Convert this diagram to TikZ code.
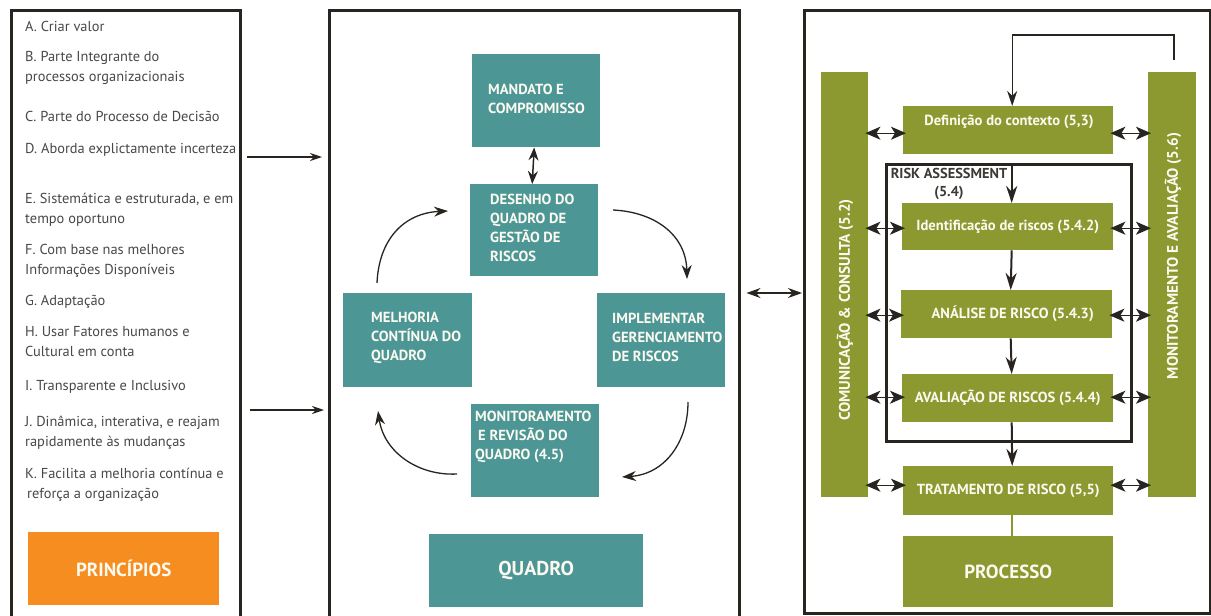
\documentclass[tikz,border=0pt]{standalone}
\usepackage{fontspec}
\setmainfont{PT Sans}
\usetikzlibrary{arrows.meta,calc}
\definecolor{teal1}{RGB}{76,150,150}
\definecolor{olive1}{RGB}{140,152,48}
\definecolor{orange1}{RGB}{246,141,32}
\definecolor{ink}{RGB}{40,36,32}
\definecolor{txt}{RGB}{72,72,72}
\definecolor{wtxt}{RGB}{252,250,240}
\tikzset{
  panel/.style={draw=ink, line width=3pt, anchor=north west, inner sep=0pt},
  tbox/.style={fill=teal1, anchor=north west, inner sep=0pt},
  obox/.style={fill=olive1, anchor=north west, inner sep=0pt, text=wtxt, font=\bfseries\fontsize{14.6}{17}\selectfont},
  ttext/.style={anchor=west, align=left, inner sep=0pt, text=wtxt, font=\bfseries\fontsize{14.6}{19}\selectfont},
  otext/.style={inner sep=0pt, text=wtxt, font=\bfseries\fontsize{14.6}{17}\selectfont},
  item/.style={anchor=west, align=left, inner sep=0pt, text=txt, font=\fontsize{14.4}{20}\selectfont},
  bigtext/.style={text=wtxt, font=\bfseries\fontsize{19}{22}\selectfont},
  larrow/.style={draw=ink, line width=1.3pt, -{Stealth[length=12pt,width=8pt]}},
  carrow/.style={draw=ink, line width=1.3pt, -{Stealth[length=14pt,width=10pt]}},
  dblarrow/.style={draw=ink, line width=1.3pt, {Stealth[length=15pt,width=13pt,inset=4pt]}-{Stealth[length=15pt,width=13pt,inset=4pt]}},
  varrow/.style={draw=ink, line width=2pt, -{Stealth[length=17pt,width=11pt]}},
  fbline/.style={draw=ink, line width=1.3pt, -{Stealth[length=15pt,width=10pt]}}
}
\begin{document}
\begin{tikzpicture}[x=1pt,y=-1pt]
\useasboundingbox (0,0) rectangle (1211,616);
\fill[white] (0,0) rectangle (1211,616);
% panels
\node[panel, minimum width=229pt, minimum height=640pt] (pL) at (10,9) {};
\node[panel, minimum width=409.5pt, minimum height=640pt] (pM) at (328,9) {};
\node[panel, minimum width=405.5pt, minimum height=602.5pt] (pR) at (803,9) {};
% left list
\node[item] (iA) at (25,26) {A. Criar valor};
\node[item] (iB) at (25,68) {B. Parte Integrante do\\processos organizacionais};
\node[item] (iC) at (25,116) {C. Parte do Processo de Decisão};
\node[item] (iD) at (25,150) {D. Aborda explictamente incerteza};
\node[item] (iE) at (25,209.5) {E. Sistemática e estruturada, e em\\tempo oportuno};
\node[item] (iF) at (25,260.5) {F. Com base nas melhores\\Informações Disponíveis};
\node[item] (iG) at (25,302) {G. Adaptação};
\node[item] (iH) at (25,342) {H. Usar Fatores humanos e\\Cultural em conta};
\node[item] (iI) at (25,387) {I. Transparente e Inclusivo};
\node[item] (iJ) at (25,433) {J. Dinâmica, interativa, e reajam\\rapidamente às mudanças};
\node[item] (iK) at (25,485) {K. Facilita a melhoria contínua e\\\hspace{2pt}reforça a organização};
\node[fill=orange1, anchor=north west, inner sep=0pt, minimum width=191pt, minimum height=73pt, bigtext] (prin) at (28,532) {PRINCÍPIOS};
% left -> middle arrows
\coordinate (ya) at (0,157);
\coordinate (yb) at (0,410);
\draw[larrow, shorten <=5pt, shorten >=6pt] (pL.east |- ya) -- (pM.west |- ya);
\draw[larrow, shorten <=8pt, shorten >=4pt] (pL.east |- yb) -- (pM.west |- yb);
% middle boxes
\node[tbox, minimum width=128pt, minimum height=93pt] (mand) at (472,54) {};
\node[tbox, minimum width=128pt, minimum height=92pt] (des) at (470,184) {};
\node[tbox, minimum width=129pt, minimum height=94pt] (mel) at (343,293) {};
\node[tbox, minimum width=128pt, minimum height=94pt] (imp) at (597,293) {};
\node[tbox, minimum width=128pt, minimum height=93pt] (mon) at (471,404) {};
\node[tbox, minimum width=214pt, minimum height=73pt, bigtext, font=\bfseries\fontsize{20}{24}\selectfont] (quad) at (429,534) {QUADRO};
\node[ttext] (mandT) at (488,99) {MANDATO E\\COMPROMISSO};
\node[ttext] (desT) at (490,228) {DESENHO DO\\QUADRO DE\\GESTÃO DE\\RISCOS};
\node[ttext] (melT) at (371,338) {MELHORIA\\CONTÍNUA DO\\QUADRO};
\node[ttext] (impT) at (612,337) {IMPLEMENTAR\\GERENCIAMENTO\\DE RISCOS};
\node[ttext] (monT) at (475,437) {MONITORAMENTO\\\hspace{3pt}E REVISÃO DO\\QUADRO (4.5)};
\draw[draw=ink, line width=1.5pt, {Stealth[length=13pt,width=10pt]}-{Stealth[length=13pt,width=10pt]}] ([xshift=-2pt]mand.south) -- ([xshift=-2pt]des.north);
% cycle arrows
\coordinate (c1s) at (377,283); \coordinate (c1e) at (448,211);
\coordinate (c2s) at (613,210); \coordinate (c2e) at (687,279);
\coordinate (c3s) at (688,402); \coordinate (c3e) at (622,477);
\coordinate (c4s) at (457,474); \coordinate (c4e) at (378,411);
\draw[carrow] (c1s) .. controls (379,238) and (405,213) .. (c1e);
\draw[carrow] (c2s) .. controls (655,212) and (686,235) .. (c2e);
\draw[carrow] (c3s) .. controls (688,442) and (665,474) .. (c3e);
\draw[carrow] (c4s) .. controls (418,476) and (384,452) .. (c4e);
% middle <-> right
\coordinate (yc) at (0,293);
\draw[draw=ink, line width=1.5pt, {Stealth[length=14pt,width=10pt]}-{Stealth[length=14pt,width=10pt]}, shorten <=6pt, shorten >=1pt] (pM.east |- yc) -- (pR.west |- yc);
% right panel
\node[fill=olive1, anchor=north west, inner sep=0pt, minimum width=47pt, minimum height=425pt] (lbar) at (821,72) {};
\node[fill=olive1, anchor=north west, inner sep=0pt, minimum width=48pt, minimum height=425pt] (rbar) at (1148,72) {};
\node[otext, rotate=90, font=\bfseries\fontsize{15.3}{18}\selectfont] (lbarT) at (845,310) {COMUNICAÇÃO \& CONSULTA (5.2)};
\node[otext, rotate=90, font=\bfseries\fontsize{15.3}{18}\selectfont] (rbarT) at (1173,256) {MONITORAMENTO E AVALIAÇÃO (5.6)};
\node[obox, minimum width=210pt, minimum height=48pt] (def) at (903,106) {};
\node[otext] (defT) at (1009,122) {Definição do contexto (5,3)};
\node[obox, minimum width=211pt, minimum height=47pt] (ident) at (902,203) {Identificação de riscos (5.4.2)};
\node[obox, minimum width=211pt, minimum height=48pt] (anal) at (901,290) {\hspace{12pt}ANÁLISE DE RISCO (5.4.3)};
\node[obox, minimum width=211pt, minimum height=48pt] (aval) at (902,374) {AVALIAÇÃO DE RISCOS (5.4.4)};
\node[obox, minimum width=210pt, minimum height=49pt] (trat) at (903,466) {TRATAMENTO DE RISCO (5,5)};
\node[obox, minimum width=210pt, minimum height=71pt, bigtext] (proc) at (903,536) {PROCESSO};
% two-way arrows to bars
\foreach \b/\s in {def/-3, ident/-1.5, anal/-1, aval/1, trat/5.5}{
  \path ([yshift=\s pt]\b.west) coordinate (tl) ([yshift=\s pt]\b.east) coordinate (tr);
  \draw[dblarrow, shorten <=-3pt, shorten >=-3pt] (tl -| lbar.east) -- (tl);
  \draw[dblarrow, shorten <=-3pt, shorten >=-3pt] (tr) -- (tr -| rbar.west);
}
% risk assessment frame
\node[draw=ink, line width=2.5pt, anchor=north west, inner sep=0pt, minimum width=245pt, minimum height=277pt] (ra) at (885,163) {};
\node[align=center, inner sep=0pt, text=ink!90, font=\bfseries\fontsize{14.4}{18}\selectfont] (raT) at (949,184) {RISK ASSESSMENT\\(5.4)};
% vertical flow
\coordinate (vx) at ([xshift=4pt]ident.north);
\draw[varrow] (vx |- ra.north) -- (vx);
\draw[varrow] ([xshift=4pt]ident.south) -- ([xshift=4pt]anal.north);
\draw[varrow] ([xshift=4pt]anal.south) -- ([xshift=4pt]aval.north);
\draw[varrow] ([xshift=4pt]aval.south) -- ([xshift=4pt]trat.north);
\draw[draw=olive1, line width=2pt] ([xshift=4pt]trat.south) -- ([xshift=4pt]proc.north);
% feedback loop
\coordinate (fbs) at (1174,60);
\coordinate (fbt) at (1174,35);
\draw[fbline] (fbs) -- (fbt) -| ([xshift=4pt]def.north);
\end{tikzpicture}
\end{document}
